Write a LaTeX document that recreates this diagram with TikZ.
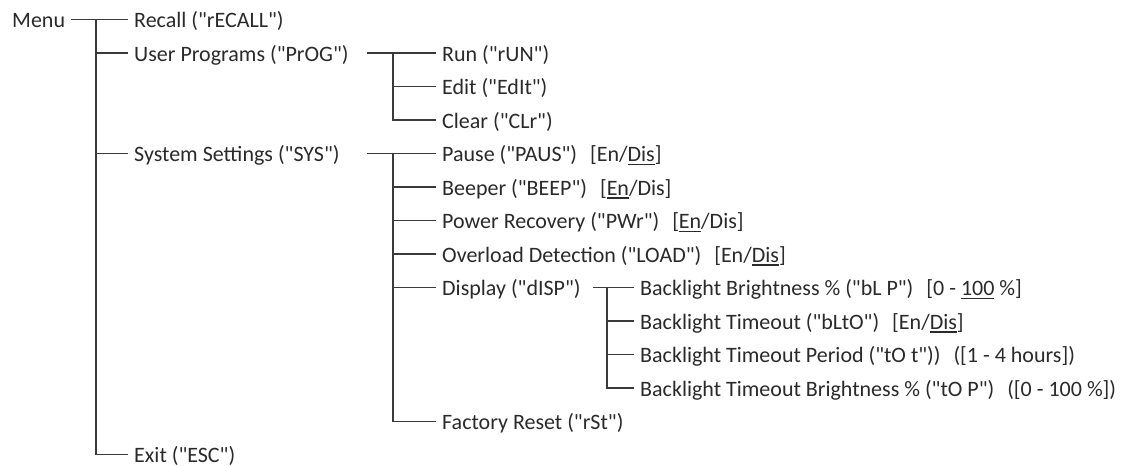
\documentclass[tikz,border=0pt]{standalone}
\usepackage{fontspec}
\setmainfont{Carlito}[Ligatures=TeXOff]
\definecolor{txt}{HTML}{2A2A2A}
\definecolor{ln}{HTML}{3A3A3A}
\newcommand\myul[1]{\setbox0\hbox{#1}\rlap{\rule[-3.5pt]{\wd0}{1.3pt}}\box0\relax}
\newcommand\gap{\hspace{13pt}}
\begin{document}
\begin{tikzpicture}[x=1pt,y=-1pt,
  item/.style={anchor=west,inner xsep=6pt,inner ysep=0pt,text height=16pt,text depth=0pt,
    text=txt,font=\fontsize{22}{26}\selectfont},
  conn/.style={draw=ln,line width=1.5pt}]
\useasboundingbox[fill=white] (0,0) rectangle (1133,466);
% level 0/1
\node[item] (menu)   at (6,19.5)    {Menu};
\node[item] (recall) at (128,19.5)  {Recall ("rECALL")};
\node[item] (up)     at (128,53)    {User Programs ("PrOG")};
\node[item] (sys)    at (128,153.5) {System Settings ("SYS")};
\node[item] (exit)   at (128,454.5) {Exit ("ESC")};
% level 2
\node[item] (run)    at (436,53)    {Run ("rUN")};
\node[item] (edit)   at (436,86.5)  {Edit ("EdIt")};
\node[item] (clear)  at (436,120)   {Clear ("CLr")};
\node[item] (pause)  at (436,153.5) {Pause ("PAUS")\gap[En/\myul{Dis}]};
\node[item] (beep)   at (436,187)   {Beeper ("BEEP")\gap[\myul{En}/Dis]};
\node[item] (pwr)    at (436,220.5) {Power Recovery ("PWr")\gap[\myul{En}/Dis]};
\node[item] (load)   at (436,254)   {Overload Detection ("LOAD")\gap[En/\myul{Dis}]};
\node[item] (disp)   at (436,287.5) {Display ("dISP")};
\node[item] (rst)    at (436,421.5) {Factory Reset ("rSt")};
% level 3
\node[item] (blp)    at (634,287.5) {Backlight Brightness \% ("bL P")\gap[0 - \myul{100}\ \%]};
\node[item] (blto)   at (634,321)   {Backlight Timeout ("bLtO")\gap[En/\myul{Dis}]};
\node[item] (tot)    at (634,354.5) {Backlight Timeout Period ("tO t"))\gap([1 - 4 hours])};
\node[item] (topp)   at (634,388)   {Backlight Timeout Brightness \% ("tO P")\gap([0 - 100 \%])};
% trunk coordinates
\coordinate (k1) at (96,19.5);
\coordinate (upo) at (367,53);
\coordinate (k2) at (393,53);
\coordinate (syso) at (367,153.5);
\coordinate (k3) at (393,153.5);
\coordinate (dispo) at (593,287.5);
\coordinate (k4) at (607,287.5);
% connectors
\draw[conn] (menu.east) -- (recall.west);
\draw[conn] (k1) |- (exit.west);
\foreach \n in {up,sys} \draw[conn] (k1 |- \n.west) -- (\n.west);
\draw[conn] (upo) -- (run.west);
\draw[conn] (k2) |- (clear.west);
\draw[conn] (k2 |- edit.west) -- (edit.west);
\draw[conn] (syso) -- (pause.west);
\draw[conn] (k3) |- (rst.west);
\foreach \n in {beep,pwr,load,disp} \draw[conn] (k3 |- \n.west) -- (\n.west);
\draw[conn] (dispo) -- (blp.west);
\draw[conn] (k4) |- (topp.west);
\foreach \n in {blto,tot} \draw[conn] (k4 |- \n.west) -- (\n.west);
\end{tikzpicture}
\end{document}
